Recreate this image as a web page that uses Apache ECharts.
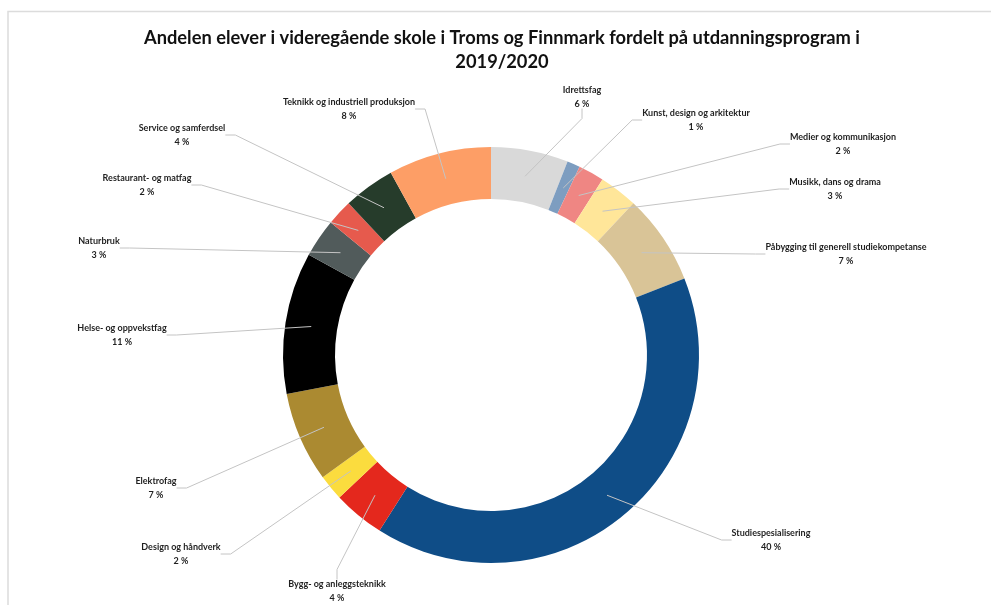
<!DOCTYPE html>
<html>
<head>
<meta charset="utf-8">
<script src="https://cdn.jsdelivr.net/npm/echarts@6/dist/echarts.min.js"></script>
<style>
  html, body { margin: 0; padding: 0; background: #fff; }
  #chart { width: 991px; height: 605px; }
</style>
</head>
<body>
<div id="chart"></div>
<script>
// clockwise from 12 o'clock, as in the picture
const programs = [
  'Idrettsfag',
  'Kunst, design og arkitektur',
  'Medier og kommunikasjon',
  'Musikk, dans og drama',
  'Påbygging til generell studiekompetanse',
  'Studiespesialisering',
  'Bygg- og anleggsteknikk',
  'Design og håndverk',
  'Elektrofag',
  'Helse- og oppvekstfag',
  'Naturbruk',
  'Restaurant- og matfag',
  'Service og samferdsel',
  'Teknikk og industriell produksjon',
];
const shares = [6, 1, 2, 3, 7, 40, 4, 2, 7, 11, 3, 2, 4, 8];
const colors = [
  '#d9d9d9', '#7d9dc0', '#ef8683', '#ffe699', '#d9c497', '#0f4d87', '#e4281d',
  '#fbdc3e', '#ab8a31', '#000000', '#515b5b', '#e65a4d', '#263c2b', '#fd9e66',
];

// label centres (layout only)
const labelPos = [
  [582, 97], [696, 120], [843, 144], [835, 189], [846, 254], [771, 540], [337, 591],
  [181, 554], [156, 488], [122, 335], [99, 248], [147, 185], [182, 135], [349, 109],
];

const chart = echarts.init(document.getElementById('chart'));

const ringData = programs.map((name, i) => ({
  name,
  value: shares[i],
  itemStyle: { color: colors[i] },
}));

const labelData = programs.map((name, i) => ({ name, value: shares[i] }));

const opts = {
  animation: false,
  title: {
    text: 'Andelen elever i videregående skole i Troms og Finnmark fordelt på utdanningsprogram i\n2019/2020',
    left: 497,
    top: 21,
    textAlign: 'center',
    textStyle: {
      fontFamily: 'Lato',
      fontWeight: 'bold',
      fontSize: 18.3,
      lineHeight: 24,
      color: '#111',
    },
  },
  graphic: [
    {
      type: 'polyline',
      shape: { points: [[8, 610], [8, 11.5], [995, 11.5]] },
      style: { stroke: '#dcdcdc', lineWidth: 1.5, fill: null },
      silent: true,
    },
  ],
  series: [
    {
      type: 'pie',
      z: 2,
      center: [491, 355],
      radius: [156, 208],
      startAngle: 90,
      clockwise: true,
      silent: true,
      label: { show: false },
      labelLine: { show: false },
      itemStyle: { borderWidth: 0 },
      data: ringData,
    },
    {
      // invisible ring whose outer edge is the middle of the visible ring, carries labels
      type: 'pie',
      z: 5,
      center: [491, 355],
      radius: [156, 182],
      startAngle: 90,
      clockwise: true,
      silent: true,
      itemStyle: { color: 'rgba(0,0,0,0)' },
      label: {
        show: true,
        formatter: (p) => `{n|${p.name}}\n{v|${p.value} %}`,
        rich: {
          n: { fontFamily: 'Lato', fontWeight: 'bold', fontSize: 9, lineHeight: 14, color: '#1f1f1f', align: 'center' },
          v: { fontFamily: 'Lato', fontWeight: 'bold', fontSize: 9, lineHeight: 14, color: '#1f1f1f', align: 'center' },
        },
      },
      labelLine: {
        show: true,
        length: 10,
        length2: 10,
        lineStyle: { color: '#c4c4c4', width: 1 },
      },
      labelLayout: (p) => ({
        x: labelPos[p.dataIndex][0],
        y: labelPos[p.dataIndex][1],
        align: 'center',
        verticalAlign: 'middle',
      }),
      data: labelData,
    },
  ],
};

chart.setOption(opts);
</script>
</body>
</html>
